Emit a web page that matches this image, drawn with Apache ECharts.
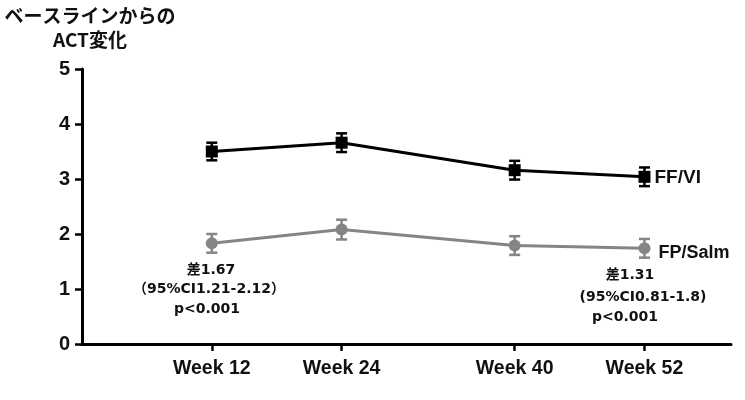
<!DOCTYPE html>
<html><head><meta charset="utf-8">
<script src="https://cdn.jsdelivr.net/npm/echarts@6/dist/echarts.min.js"></script>
<style>html,body{margin:0;padding:0;background:#fff}#c{width:745px;height:400px}</style>
</head><body><div id="c"></div>
<script>
const weeks = [12, 24, 40, 52];
const ffviMean = [3.50, 3.66, 3.16, 3.04];
const ffviErr = [0.16, 0.17, 0.17, 0.17];
const fpMean = [1.83, 2.08, 1.79, 1.74];
const fpErr = [0.17, 0.18, 0.17, 0.17];
const seriesNames = ['FF/VI', 'FP/Salm'];
const yTicks = [0, 1, 2, 3, 4, 5];
const titleLines = ['ベースラインからの', 'ACT変化'];
const noteLeft = ['差1.67', '（95%CI1.21-2.12）', 'p<0.001'];
const noteRight = ['差1.31', '(95%CI0.81-1.8)', 'p<0.001'];

const chart = echarts.init(document.getElementById('c'));
const LAT = '"Liberation Sans", Arial, sans-serif';
const JP = '"Noto Sans CJK JP", sans-serif';
const NOTE = '"DejaVu Sans", "Noto Sans CJK JP", sans-serif';

function errSeries(mean, err, color) {
  return {
    type: 'custom', silent: true, z: 3,
    data: weeks.map((w, i) => [w, mean[i] - err[i], mean[i] + err[i]]),
    renderItem: function (params, api) {
      const lo = api.coord([api.value(0), api.value(1)]);
      const hi = api.coord([api.value(0), api.value(2)]);
      const hw = 5.5;
      const st = { stroke: color, lineWidth: 2.5 };
      return { type: 'group', children: [
        { type: 'line', shape: { x1: lo[0], y1: lo[1], x2: hi[0], y2: hi[1] }, style: st },
        { type: 'line', shape: { x1: lo[0] - hw, y1: lo[1], x2: lo[0] + hw, y2: lo[1] }, style: st },
        { type: 'line', shape: { x1: hi[0] - hw, y1: hi[1], x2: hi[0] + hw, y2: hi[1] }, style: st }
      ]};
    }
  };
}

const noteStyle = { fontFamily: NOTE, fontWeight: 'bold', fontSize: 14, fill: '#111', textAlign: 'center', textVerticalAlign: 'middle' };

chart.setOption({
  animation: false,
  backgroundColor: '#fff',
  grid: { left: 82, right: 14, top: 69, bottom: 56 },
  title: {
    text: titleLines.join('\n'), left: 90, top: 4, padding: 0, textAlign: 'center',
    textStyle: { fontFamily: JP, fontWeight: 'bold', fontSize: 19, lineHeight: 24, color: '#111' }
  },
  xAxis: {
    type: 'value', min: 0, max: 60,
    splitLine: { show: false },
    axisLine: { show: true, lineStyle: { color: '#000', width: 3 } },
    axisTick: { show: true, customValues: weeks, length: 7, lineStyle: { color: '#000', width: 2.5 } },
    axisLabel: { customValues: weeks, formatter: v => 'Week ' + v, margin: 15, fontFamily: LAT, fontWeight: 'bold', fontSize: 19.5, color: '#111' }
  },
  yAxis: {
    type: 'value', min: 0, max: 5, interval: 1,
    splitLine: { show: false },
    axisLine: { show: true, lineStyle: { color: '#000', width: 3 } },
    axisTick: { show: true, length: 7, lineStyle: { color: '#000', width: 2.5 } },
    axisLabel: { margin: 12, fontFamily: LAT, fontWeight: 'bold', fontSize: 20, color: '#111', formatter: v => yTicks.includes(v) ? String(v) : '' }
  },
  series: [
    {
      name: seriesNames[0], type: 'line', z: 4,
      data: weeks.map((w, i) => [w, ffviMean[i]]),
      symbol: 'rect', symbolSize: 12,
      lineStyle: { color: '#000', width: 3 }, itemStyle: { color: '#000' },
      endLabel: { show: true, formatter: seriesNames[0], offset: [2, 1], fontFamily: LAT, fontWeight: 'bold', fontSize: 19, color: '#111' }
    },
    {
      name: seriesNames[1], type: 'line', z: 4,
      data: weeks.map((w, i) => [w, fpMean[i]]),
      symbol: 'circle', symbolSize: 12,
      lineStyle: { color: '#858585', width: 3 }, itemStyle: { color: '#858585' },
      endLabel: { show: true, formatter: seriesNames[1], offset: [6, 5], fontFamily: LAT, fontWeight: 'bold', fontSize: 18, color: '#111' }
    },
    errSeries(ffviMean, ffviErr, '#000'),
    errSeries(fpMean, fpErr, '#858585')
  ],
  graphic: [
    { type: 'text', x: 211, y: 270, style: Object.assign({ text: noteLeft[0] }, noteStyle) },
    { type: 'text', x: 209, y: 289, style: Object.assign({ text: noteLeft[1] }, noteStyle) },
    { type: 'text', x: 207, y: 309, style: Object.assign({ text: noteLeft[2] }, noteStyle) },
    { type: 'text', x: 630, y: 275, style: Object.assign({ text: noteRight[0] }, noteStyle) },
    { type: 'text', x: 643, y: 297, style: Object.assign({ text: noteRight[1] }, noteStyle) },
    { type: 'text', x: 625, y: 317, style: Object.assign({ text: noteRight[2] }, noteStyle) }
  ]
});
</script></body></html>
